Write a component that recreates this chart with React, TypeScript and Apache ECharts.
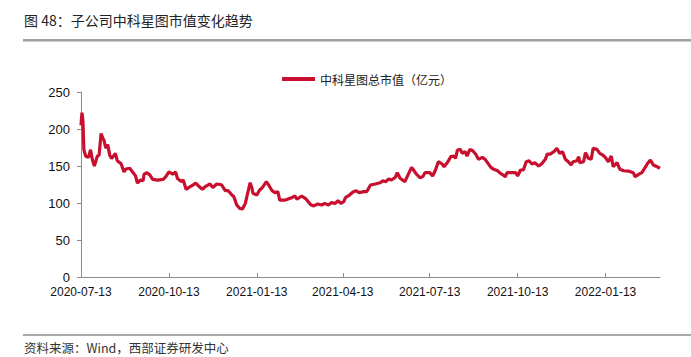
import React, { useEffect, useRef } from "react";
import * as echarts from "echarts";

const TITLE = "图 48：子公司中科星图市值变化趋势";
const SOURCE = "资料来源：Wind，西部证券研发中心";
const SERIES_NAME = "中科星图总市值（亿元）";
const START_DATE = "2020-07-13";
const END_DATE = "2022-03-11";
const TICK_MONTH_DAYS = ["01-13", "04-13", "07-13", "10-13"];
const Y_TICKS = [0, 50, 100, 150, 200, 250];

const dates: string[] = [
  "2020-07-13","2020-07-14","2020-07-15","2020-07-16","2020-07-18","2020-07-21","2020-07-23","2020-07-25","2020-07-27","2020-07-30",
  "2020-08-01","2020-08-03","2020-08-05","2020-08-06","2020-08-08","2020-08-10","2020-08-12","2020-08-14","2020-08-18","2020-08-20",
  "2020-08-24","2020-08-27","2020-08-29","2020-09-02","2020-09-05","2020-09-08","2020-09-10","2020-09-13","2020-09-16","2020-09-17",
  "2020-09-20","2020-09-23","2020-09-26","2020-10-01","2020-10-07","2020-10-10","2020-10-13","2020-10-17","2020-10-20","2020-10-22",
  "2020-10-26","2020-10-28","2020-10-31","2020-11-03","2020-11-07","2020-11-10","2020-11-13","2020-11-17","2020-11-20","2020-11-25",
  "2020-11-28","2020-12-02","2020-12-07","2020-12-11","2020-12-14","2020-12-18","2020-12-20","2020-12-23","2020-12-26","2020-12-29",
  "2021-01-01","2021-01-03","2021-01-06","2021-01-08","2021-01-09","2021-01-13","2021-01-16","2021-01-19","2021-01-23","2021-01-26",
  "2021-01-29","2021-02-01","2021-02-04","2021-02-06","2021-02-12","2021-02-17","2021-02-22","2021-02-24","2021-03-01","2021-03-05",
  "2021-03-07","2021-03-10","2021-03-13","2021-03-18","2021-03-22","2021-03-25","2021-03-29","2021-04-01","2021-04-05","2021-04-08",
  "2021-04-11","2021-04-14","2021-04-16","2021-04-20","2021-04-24","2021-04-27","2021-04-30","2021-05-05","2021-05-08","2021-05-12",
  "2021-05-17","2021-05-22","2021-05-25","2021-05-28","2021-05-31","2021-06-03","2021-06-07","2021-06-09","2021-06-12","2021-06-17",
  "2021-06-21","2021-06-24","2021-06-26","2021-06-29","2021-07-03","2021-07-06","2021-07-08","2021-07-13","2021-07-16","2021-07-19",
  "2021-07-22","2021-07-26","2021-07-28","2021-08-01","2021-08-04","2021-08-07","2021-08-09","2021-08-11","2021-08-14","2021-08-16",
  "2021-08-19","2021-08-21","2021-08-24","2021-08-27","2021-08-30","2021-09-02","2021-09-06","2021-09-09","2021-09-12","2021-09-15",
  "2021-09-18","2021-09-22","2021-09-25","2021-09-28","2021-09-30","2021-10-02","2021-10-07","2021-10-11","2021-10-13","2021-10-16",
  "2021-10-19","2021-10-22","2021-10-25","2021-10-28","2021-10-31","2021-11-04","2021-11-07","2021-11-11","2021-11-13","2021-11-16",
  "2021-11-20","2021-11-23","2021-11-26","2021-11-29","2021-12-02","2021-12-05","2021-12-08","2021-12-10","2021-12-14","2021-12-16",
  "2021-12-17","2021-12-21","2021-12-23","2021-12-26","2021-12-29","2021-12-31","2022-01-04","2022-01-07","2022-01-10","2022-01-13",
  "2022-01-16","2022-01-19","2022-01-21","2022-01-25","2022-01-28","2022-02-01","2022-02-06","2022-02-11","2022-02-13","2022-02-17",
  "2022-02-20","2022-02-24","2022-02-26","2022-03-01","2022-03-04","2022-03-08","2022-03-11",
];

const values: number[] = [
  205,222,212,172,163,162,172,158,150,163,
  165,194,187,185,174,179,165,160,167,157,
  153,142,146,147,142,137,127,131,130,139,
  141,138,132,131,132,136,142,139,142,133,
  129,131,118.5,121,124,127,123,118.5,122,125.7,
  121,125.7,124.7,116.6,116.6,110.8,108.5,97.3,92.8,91.9,
  99.5,110.8,127.4,119.8,113,110.8,117.6,121,128.8,123,
  116.6,114,115.3,104,104,106.3,109.5,105,109.5,106,
  103,98.2,96,98.6,97.3,99.5,97.3,100.5,99.5,103,
  99.5,101.8,107.7,110.8,115.3,116.6,114,115.3,115.3,124.3,
  125.7,127.4,130,128.8,132.4,131,134.7,141,133.4,128.8,
  140,148.2,144.6,139,134,136,141,141,136.5,144.6,
  155.8,152.7,149,155.8,162.6,163.5,160.4,171.6,172.5,167,
  169.3,163.5,172.5,170.7,166.2,159,161.7,159,153.6,148.2,
  145.5,143.6,140,137.8,135.5,141,141,141,136.5,144.6,
  144.6,155.8,157.2,152.7,154.5,150,152.7,159,166.2,166,
  169.3,173.9,167,169.3,159,155.8,151.4,155.8,157.2,162.6,
  154.5,155.8,168,160.4,159,173.9,172.5,167,164.9,161.2,
  155.8,163.5,149,154.5,145.5,143.6,143.2,141,135.5,139,
  141,149,153.6,158,151.4,149,147,
];

function buildCalendar(start: string, end: string): string[] {
  const out: string[] = [];
  const d = new Date(start + "T00:00:00Z");
  const e = new Date(end + "T00:00:00Z");
  while (d.getTime() <= e.getTime()) {
    out.push(d.toISOString().slice(0, 10));
    d.setUTCDate(d.getUTCDate() + 1);
  }
  return out;
}

export default function App() {
  const ref = useRef<HTMLDivElement>(null);
  useEffect(() => {
    if (!ref.current) return;
    const chart = echarts.init(ref.current, null, { renderer: "svg" });
    const categories = buildCalendar(START_DATE, END_DATE);
    const isTick = (_i: number, v: string) => TICK_MONTH_DAYS.includes(v.slice(5));
    const seriesData = dates.map((d, i) => [d, values[i]]);
    const cjk = "'Noto Sans CJK SC', 'Liberation Sans', sans-serif";
    const latin = "'Liberation Sans', Arial, sans-serif";
    chart.setOption({
      animation: false,
      backgroundColor: "#ffffff",
      grid: { left: 81, right: 31, top: 92, bottom: 80, containLabel: false },
      legend: {
        left: 282,
        top: 73,
        padding: 0,
        itemWidth: 33,
        itemHeight: 4,
        itemGap: 10,
        icon: "rect",
        textStyle: { fontFamily: cjk, fontSize: 12, color: "#222" },
        data: [SERIES_NAME],
      },
      xAxis: {
        type: "category",
        data: categories,
        boundaryGap: false,
        axisLine: { lineStyle: { color: "#8c8c8c", width: 1 } },
        axisTick: { show: true, inside: true, length: 4, interval: isTick, lineStyle: { color: "#8c8c8c" } },
        axisLabel: {
          interval: isTick,
          fontFamily: latin,
          fontSize: 12,
          color: "#111",
          margin: 9,
        },
        splitLine: { show: false },
      },
      yAxis: {
        type: "value",
        min: Y_TICKS[0],
        max: Y_TICKS[Y_TICKS.length - 1],
        interval: 50,
        axisLine: { show: true, lineStyle: { color: "#8c8c8c", width: 1 } },
        axisTick: { show: true, inside: false, length: 4, lineStyle: { color: "#8c8c8c" } },
        axisLabel: { fontFamily: latin, fontSize: 13, color: "#111", margin: 11 },
        splitLine: { show: false },
      },
      series: [
        {
          name: SERIES_NAME,
          type: "line",
          data: seriesData,
          showSymbol: false,
          symbol: "none",
          lineStyle: { color: "#C8102E", width: 3.2 },
          itemStyle: { color: "#C8102E" },
        },
      ],
      graphic: [
        {
          type: "text",
          left: 24,
          top: 13,
          style: { text: TITLE, fontFamily: cjk, fontSize: 14, fill: "#222" },
        },
        {
          type: "rect",
          shape: { x: 23, y: 39, width: 668, height: 2.5 },
          style: { fill: "#a0a0a0" },
        },
        {
          type: "rect",
          shape: { x: 23, y: 334.5, width: 668, height: 1 },
          style: { fill: "#555" },
        },
        {
          type: "text",
          left: 24,
          top: 341,
          style: { text: SOURCE, fontFamily: cjk, fontSize: 12.5, fill: "#333" },
        },
      ],
    });
    return () => chart.dispose();
  }, []);
  return (
    <div
      ref={ref}
      style={{ position: "fixed", left: 0, top: 0, width: 691, height: 357, background: "#fff" }}
    />
  );
}
